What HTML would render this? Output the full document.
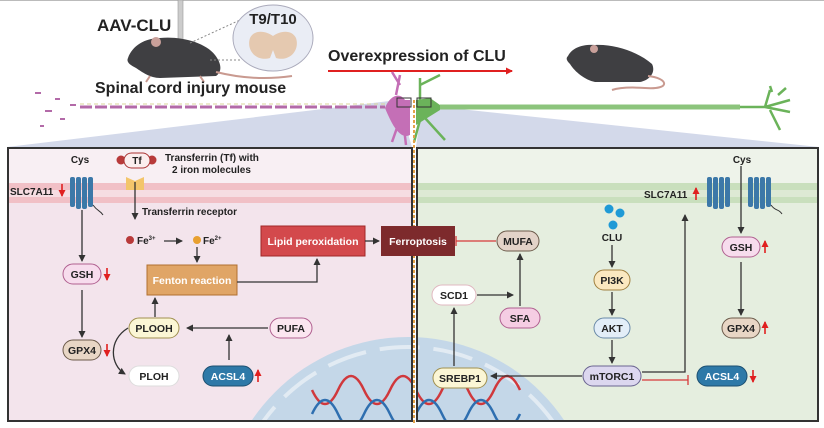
<!DOCTYPE html>
<html><head><meta charset="utf-8"><style>
html,body{margin:0;padding:0;background:#fff;width:824px;height:428px;overflow:hidden;}
svg{display:block;font-family:"Liberation Sans",Arial,sans-serif;}
.t{font-weight:bold;fill:#222;}
</style></head><body>
<svg width="824" height="428" viewBox="0 0 824 428" xmlns="http://www.w3.org/2000/svg">
<defs>
<marker id="a" markerWidth="8" markerHeight="8" refX="6" refY="4" orient="auto" markerUnits="userSpaceOnUse"><path d="M0,0.5 L7,4 L0,7.5z" fill="#333"/></marker>
<marker id="r" markerWidth="8" markerHeight="8" refX="6" refY="4" orient="auto" markerUnits="userSpaceOnUse"><path d="M0,0.5 L7,4 L0,7.5z" fill="#e02020"/></marker>
<clipPath id="cl"><rect x="8" y="148" width="404" height="273"/></clipPath>
<clipPath id="cr"><rect x="417" y="148" width="401" height="273"/></clipPath>
</defs>
<line x1="0" y1="0.5" x2="824" y2="0.5" stroke="#bbb"/>
<polygon points="398,100 7,147 412,147" fill="#d3d9ea"/>
<polygon points="422,105 819,147 416,147" fill="#d3d9ea"/>
<!-- mouse 1 -->
<rect x="178" y="0" width="5" height="40" fill="#ccc" stroke="#999" stroke-width="0.6"/>
<path d="M128,58 C132,46 145,38 160,38 C180,36 205,42 215,55 C222,64 222,72 216,76 L160,78 C150,78 142,72 136,68 C130,65 126,62 128,58z" fill="#3f3f42"/>
<path d="M216,72 C240,78 265,80 292,76" stroke="#c99a90" stroke-width="2" fill="none"/>
<path d="M150,76 L146,82 M200,76 L204,82" stroke="#c99a90" stroke-width="2"/>
<circle cx="156" cy="42" r="5" fill="#c9a09a"/>
<text x="97" y="31" class="t" font-size="17">AAV-CLU</text>
<line x1="190" y1="43" x2="240" y2="20" stroke="#888" stroke-dasharray="2,2"/>
<line x1="210" y1="60" x2="240" y2="60" stroke="#888" stroke-dasharray="2,2"/>
<ellipse cx="273" cy="38" rx="40" ry="33" fill="#eaedf5" stroke="#aab"/>
<text x="273" y="24" class="t" font-size="15" text-anchor="middle">T9/T10</text>
<path d="M250,38 C255,28 268,32 273,36 C278,32 291,28 296,38 C300,50 290,62 276,58 L273,50 L270,58 C256,62 246,50 250,38z" fill="#e5c9b0"/>
<text x="95" y="93" class="t" font-size="16">Spinal cord injury mouse</text>
<text x="328" y="61" class="t" font-size="16">Overexpression of CLU</text>
<line x1="328" y1="71" x2="512" y2="71" stroke="#e02020" stroke-width="2" marker-end="url(#r)"/>
<!-- mouse 2 -->
<path d="M568,56 C572,48 582,44 595,45 C615,44 638,52 652,64 C656,72 650,80 640,82 L595,82 C585,80 575,72 570,64 C566,60 566,58 568,56z" fill="#3f3f42"/>
<path d="M648,76 C668,78 672,90 645,88 C630,87 618,88 612,90" stroke="#c99a90" stroke-width="2" fill="none"/>
<circle cx="594" cy="49" r="4" fill="#c9a09a"/>
<!-- axons -->
<line x1="80" y1="107" x2="385" y2="107" stroke="#b36aa8" stroke-width="3" stroke-dasharray="12,3"/>
<line x1="80" y1="104" x2="385" y2="104" stroke="#d9d49a" stroke-width="1" stroke-dasharray="4,3"/>
<g fill="#b36aa8"><rect x="35" y="92" width="6" height="2"/><rect x="45" y="110" width="7" height="2"/><rect x="55" y="98" width="5" height="2"/><rect x="60" y="118" width="5" height="2"/><rect x="40" y="125" width="4" height="2"/><rect x="70" y="104" width="6" height="2"/></g>
<path d="M385,108 C390,95 400,92 405,100 L410,100 L410,135 C400,140 392,125 385,108z" fill="#c46fb6"/>
<path d="M396,95 L400,75 M400,85 L392,72 M398,125 L392,142 M404,128 L406,145" stroke="#c46fb6" stroke-width="2.5"/>
<rect x="397" y="98" width="14" height="9" fill="none" stroke="#333"/>
<line x1="440" y1="107" x2="740" y2="107" stroke="#8cc47c" stroke-width="5"/>
<path d="M416,100 L430,98 L440,105 L440,110 L416,125z" fill="#6bb35a"/>
<path d="M420,100 L420,78 M420,85 L440,75 M420,120 L414,142 M425,118 L445,140" stroke="#6bb35a" stroke-width="2.5"/>
<rect x="417" y="98" width="14" height="9" fill="none" stroke="#333"/>
<path d="M740,107 L765,107 L770,90 M765,107 L790,100 M765,107 L790,112 M770,110 L780,130 M772,92 L770,86 M778,95 L786,88" stroke="#6bb35a" stroke-width="2.5" fill="none"/>
<!-- LEFT PANEL -->
<g clip-path="url(#cl)">
<rect x="8" y="148" width="404" height="273" fill="#f3e4ec"/>
<rect x="8" y="148" width="404" height="35" fill="#f8eff3"/>
<rect x="8" y="183" width="404" height="7" fill="#f1c0c6"/>
<rect x="8" y="190" width="404" height="7" fill="#f6dde2"/>
<rect x="8" y="197" width="404" height="6" fill="#f1c0c6"/>
<circle cx="408" cy="525" r="188" fill="#c4d7e8"/>
<circle cx="408" cy="525" r="178" fill="none" stroke="#e2ebf3" stroke-width="4" stroke-dasharray="40,14"/>
<g fill="none" stroke-width="2.5">
<path d="M312,390 Q325,418 338,390 T364,390 T390,390 T416,390" stroke="#d0383c"/>
<path d="M312,414 Q325,386 338,414 T364,414 T390,414 T416,414" stroke="#2f6fb0"/>
</g>
</g>
<rect x="8" y="148" width="404" height="273" fill="none" stroke="#333" stroke-width="2"/>
<!-- RIGHT PANEL -->
<g clip-path="url(#cr)">
<rect x="417" y="148" width="401" height="273" fill="#e5eedf"/>
<rect x="417" y="148" width="401" height="35" fill="#eef3ea"/>
<rect x="417" y="183" width="401" height="7" fill="#c9dfbd"/>
<rect x="417" y="190" width="401" height="7" fill="#dde9d4"/>
<rect x="417" y="197" width="401" height="6" fill="#c9dfbd"/>
<circle cx="408" cy="525" r="188" fill="#c4d7e8"/>
<circle cx="408" cy="525" r="178" fill="none" stroke="#e2ebf3" stroke-width="4" stroke-dasharray="40,14"/>
<g fill="none" stroke-width="2.5">
<path d="M416,390 Q429,418 442,390 T468,390 T494,390 T520,390" stroke="#d0383c"/>
<path d="M416,414 Q429,386 442,414 T468,414 T494,414 T520,414" stroke="#2f6fb0"/>
</g>
</g>
<rect x="417" y="148" width="401" height="273" fill="none" stroke="#333" stroke-width="2"/>
<line x1="414" y1="100" x2="414" y2="424" stroke="#e3a24a" stroke-width="2" stroke-dasharray="3,2"/>
<!-- transporters -->
<g fill="#3c78a8">
<rect x="70" y="177" width="5" height="30" rx="2"/><rect x="76" y="177" width="5" height="32" rx="2"/><rect x="82" y="177" width="5" height="32" rx="2"/><rect x="88" y="177" width="5" height="30" rx="2"/>
<rect x="707" y="177" width="5" height="30" rx="2"/><rect x="713" y="177" width="5" height="32" rx="2"/><rect x="719" y="177" width="5" height="32" rx="2"/><rect x="725" y="177" width="5" height="30" rx="2"/>
<rect x="748" y="177" width="5" height="30" rx="2"/><rect x="754" y="177" width="5" height="32" rx="2"/><rect x="760" y="177" width="5" height="32" rx="2"/><rect x="766" y="177" width="5" height="30" rx="2"/>
</g>
<path d="M93,205 C98,212 100,210 103,215" stroke="#333" fill="none"/>
<path d="M771,205 C776,212 778,208 782,214" stroke="#333" fill="none"/>
<g class="t" font-size="10">
<text x="80" y="163" text-anchor="middle">Cys</text>
<text x="165" y="161">Transferrin (Tf) with</text>
<text x="172" y="173">2 iron molecules</text>
<text x="10" y="195">SLC7A11</text>
<text x="142" y="215">Transferrin receptor</text>
<text x="137" y="244">Fe<tspan font-size="6" dy="-4">3+</tspan></text>
<text x="203" y="244">Fe<tspan font-size="6" dy="-4">2+</tspan></text>
</g>
<circle cx="121" cy="160" r="4.5" fill="#b83a3a"/><circle cx="152" cy="160" r="4.5" fill="#b83a3a"/>
<rect x="124" y="153" width="26" height="15" rx="7.5" fill="#fbeeee" stroke="#a33"/>
<text x="137" y="164" class="t" font-size="10" text-anchor="middle">Tf</text>
<path d="M126,177 L135,181 L144,177 L144,190 L126,190z" fill="#f3c56b"/>
<line x1="135" y1="182" x2="135" y2="219" stroke="#333" stroke-width="1.3" marker-end="url(#a)"/>
<circle cx="130" cy="240" r="4" fill="#b83a3a"/><circle cx="197" cy="240" r="4" fill="#e8a030"/>
<line x1="164" y1="241" x2="182" y2="241" stroke="#333" stroke-width="1.3" marker-end="url(#a)"/>
<line x1="197" y1="247" x2="197" y2="262" stroke="#333" stroke-width="1.3" marker-end="url(#a)"/>
<rect x="147" y="265" width="90" height="30" fill="#e0a566" stroke="#b07030"/>
<text x="192" y="284" font-size="10.5" font-weight="bold" fill="#fff" text-anchor="middle">Fenton reaction</text>
<rect x="261" y="226" width="104" height="30" fill="#d3494c" stroke="#a02828"/>
<text x="313" y="245" font-size="10.5" font-weight="bold" fill="#fff" text-anchor="middle">Lipid peroxidation</text>
<rect x="381" y="226" width="74" height="30" fill="#7d2a2c"/>
<text x="418" y="245" font-size="10.5" font-weight="bold" fill="#fff" text-anchor="middle">Ferroptosis</text>
<line x1="365" y1="241" x2="379" y2="241" stroke="#333" stroke-width="1.3" marker-end="url(#a)"/>
<polyline points="237,282 317,282 317,259" fill="none" stroke="#333" stroke-width="1.3" marker-end="url(#a)"/>
<g stroke="#333" stroke-width="1.3" fill="none">
<line x1="82" y1="210" x2="82" y2="261" marker-end="url(#a)"/>
<line x1="82" y1="290" x2="82" y2="337" marker-end="url(#a)"/>
<line x1="155" y1="317" x2="155" y2="298" marker-end="url(#a)"/>
<line x1="268" y1="328" x2="187" y2="328" marker-end="url(#a)"/>
<line x1="229" y1="360" x2="229" y2="335" marker-end="url(#a)"/>
<path d="M128,328 C108,340 110,365 125,374" marker-end="url(#a)"/>
</g>
<g font-size="10.5" font-weight="bold" text-anchor="middle">
<rect x="63" y="264" width="38" height="20" rx="10" fill="#f7dced" stroke="#b06090"/><text x="82" y="278" fill="#222">GSH</text>
<rect x="63" y="340" width="38" height="20" rx="10" fill="#e8d6c5" stroke="#6b5a4a"/><text x="82" y="354" fill="#222">GPX4</text>
<rect x="129" y="318" width="50" height="20" rx="10" fill="#fbf6d5" stroke="#a09050"/><text x="154" y="332" fill="#222">PLOOH</text>
<rect x="129" y="366" width="50" height="20" rx="10" fill="#fff" stroke="#ddd"/><text x="154" y="380" fill="#222">PLOH</text>
<rect x="270" y="318" width="42" height="20" rx="10" fill="#fbe6f0" stroke="#b06090"/><text x="291" y="332" fill="#222">PUFA</text>
<rect x="203" y="366" width="50" height="20" rx="10" fill="#2e79a8" stroke="#1c4f70"/><text x="228" y="380" fill="#fff">ACSL4</text>
<rect x="497" y="231" width="42" height="20" rx="10" fill="#e3d3c8" stroke="#6b5a4a"/><text x="518" y="245" fill="#222">MUFA</text>
<rect x="500" y="308" width="40" height="20" rx="10" fill="#f5cde3" stroke="#b06090"/><text x="520" y="322" fill="#222">SFA</text>
<rect x="432" y="285" width="44" height="20" rx="10" fill="#fff" stroke="#e0b8c0"/><text x="454" y="299" fill="#222">SCD1</text>
<rect x="433" y="368" width="54" height="20" rx="10" fill="#fbf6d5" stroke="#a09050"/><text x="460" y="382" fill="#222">SREBP1</text>
<rect x="594" y="270" width="36" height="20" rx="10" fill="#fbe8c0" stroke="#a08040"/><text x="612" y="284" fill="#222">PI3K</text>
<rect x="594" y="318" width="36" height="20" rx="10" fill="#e3eef8" stroke="#6a8aa8"/><text x="612" y="332" fill="#222">AKT</text>
<rect x="583" y="366" width="58" height="20" rx="10" fill="#dcd7ef" stroke="#6a6490"/><text x="612" y="380" fill="#222">mTORC1</text>
<rect x="722" y="237" width="38" height="20" rx="10" fill="#f7dced" stroke="#b06090"/><text x="741" y="251" fill="#222">GSH</text>
<rect x="722" y="318" width="38" height="20" rx="10" fill="#e8d6c5" stroke="#6b5a4a"/><text x="741" y="332" fill="#222">GPX4</text>
<rect x="697" y="366" width="50" height="20" rx="10" fill="#2e79a8" stroke="#1c4f70"/><text x="722" y="380" fill="#fff">ACSL4</text>
</g>
<g class="t" font-size="10">
<text x="742" y="163" text-anchor="middle">Cys</text>
<text x="644" y="198">SLC7A11</text>
<text x="612" y="241" text-anchor="middle">CLU</text>
</g>
<circle cx="609" cy="209" r="4.5" fill="#1f9ad6"/><circle cx="620" cy="213" r="4.5" fill="#1f9ad6"/><circle cx="613" cy="225" r="4.5" fill="#1f9ad6"/>
<g stroke="#333" stroke-width="1.3" fill="none">
<line x1="612" y1="245" x2="612" y2="267" marker-end="url(#a)"/>
<line x1="612" y1="292" x2="612" y2="315" marker-end="url(#a)"/>
<line x1="612" y1="340" x2="612" y2="363" marker-end="url(#a)"/>
<line x1="582" y1="376" x2="491" y2="376" marker-end="url(#a)"/>
<line x1="454" y1="366" x2="454" y2="308" marker-end="url(#a)"/>
<line x1="477" y1="295" x2="513" y2="295" marker-end="url(#a)"/>
<line x1="520" y1="306" x2="520" y2="254" marker-end="url(#a)"/>
<polyline points="642,372 685,372 685,215" marker-end="url(#a)"/>
<line x1="741" y1="166" x2="741" y2="233" marker-end="url(#a)"/>
<line x1="741" y1="262" x2="741" y2="315" marker-end="url(#a)"/>
</g>
<g stroke="#d63a3a" stroke-width="1.3">
<line x1="642" y1="380" x2="688" y2="380"/><line x1="688" y1="375" x2="688" y2="385"/>
<line x1="496" y1="241" x2="456" y2="241"/><line x1="456" y1="236" x2="456" y2="246"/>
</g>
<g stroke="#e02020" stroke-width="1.6">
<line x1="62" y1="184" x2="62" y2="196" marker-end="url(#r)"/>
<line x1="107" y1="268" x2="107" y2="280" marker-end="url(#r)"/>
<line x1="107" y1="344" x2="107" y2="356" marker-end="url(#r)"/>
<line x1="258" y1="382" x2="258" y2="370" marker-end="url(#r)"/>
<line x1="696" y1="200" x2="696" y2="188" marker-end="url(#r)"/>
<line x1="765" y1="253" x2="765" y2="241" marker-end="url(#r)"/>
<line x1="765" y1="334" x2="765" y2="322" marker-end="url(#r)"/>
<line x1="753" y1="370" x2="753" y2="382" marker-end="url(#r)"/>
</g>
</svg>
</body></html>
